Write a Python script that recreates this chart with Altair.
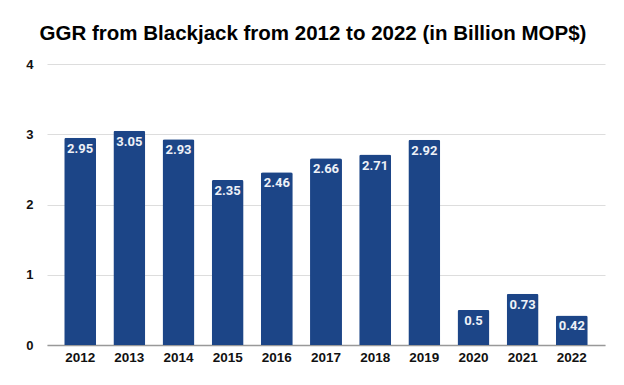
import altair as alt
import pandas as pd

years = ["2012", "2013", "2014", "2015", "2016", "2017", "2018", "2019", "2020", "2021", "2022"]
ggr = [2.95, 3.05, 2.93, 2.35, 2.46, 2.66, 2.71, 2.92, 0.5, 0.73, 0.42]

df = pd.DataFrame({"year": years, "ggr": ggr})

x = alt.X("year:N", sort=years, title=None,
          scale=alt.Scale(paddingInner=0.35, paddingOuter=0.35),
          axis=alt.Axis(labelAngle=0, labelFontWeight="bold", labelFontSize=13.5,
                        labelColor="#111", labelFont="Liberation Sans", ticks=False,
                        domain=True, domainColor="#999", domainWidth=1.5, labelPadding=5))
y = alt.Y("ggr:Q", title=None,
          scale=alt.Scale(domain=[0, 4]),
          axis=alt.Axis(values=[0, 1, 2, 3, 4], format="d", labelFontWeight="bold",
                        labelFontSize=13, labelColor="#111", labelFont="Liberation Sans",
                        ticks=False, domain=False, gridColor="#dddddd", labelPadding=14))

bars = alt.Chart(df).mark_bar(color="#1c4587", cornerRadiusTopLeft=2,
                              cornerRadiusTopRight=2).encode(x=x, y=y)
labels = alt.Chart(df).mark_text(baseline="top", dy=5, color="#eef1f7", fontWeight="bold",
                                 fontSize=13, font="Roboto").encode(
    x=alt.X("year:N", sort=years), y="ggr:Q", text=alt.Text("ggr:Q"))

chart = (bars + labels).properties(
    width=558, height=281,
    title=alt.TitleParams("GGR from Blackjack from 2012 to 2022 (in Billion MOP$)",
                          fontSize=20.5, font="Liberation Sans", fontWeight="bold",
                          color="#000", anchor="middle", dx=-13, offset=14),
    autosize=alt.AutoSizeParams(type="none"),
    padding={"left": 39, "top": 56, "right": 11, "bottom": 24},
).configure_view(stroke=None)

chart.save("out.html", embed_options={"renderer": "svg", "actions": False})
